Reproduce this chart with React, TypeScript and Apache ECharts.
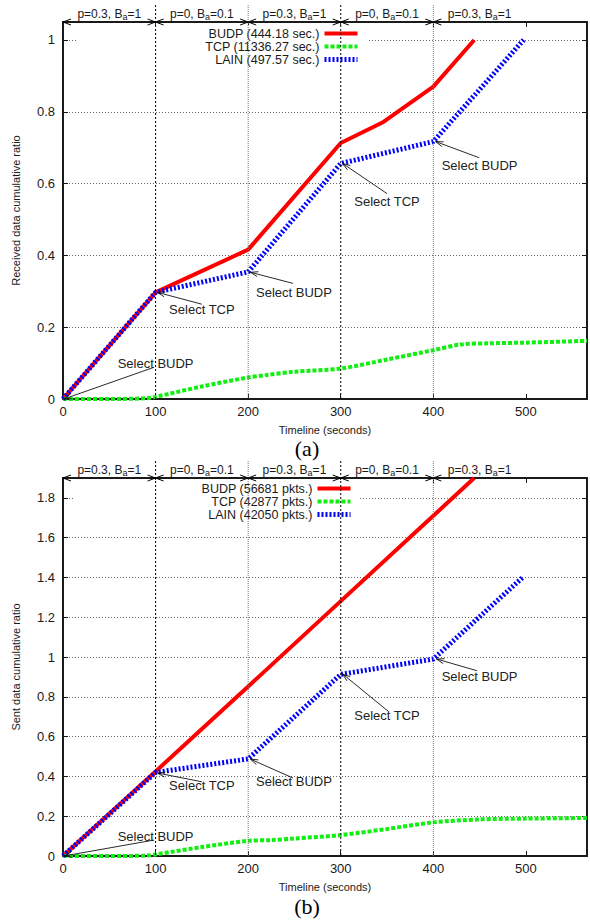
import React, { useEffect, useRef } from 'react';
import * as echarts from 'echarts';

// ---------- data ----------
const X_MAX = 566;
const RECV_Y_MAX = 1.05;
const SENT_Y_MAX = 1.9;

const phaseStart = [0, 100, 200, 300, 400];
const phaseEnd = [100, 200, 300, 400, 500];
const phaseP = ['0.3', '0', '0.3', '0', '0.3'];
const phaseB = ['1', '0.1', '1', '0.1', '1'];

const recvNames = ['BUDP (444.18 sec.)', 'TCP (11336.27 sec.)', 'LAIN (497.57 sec.)'];
const sentNames = ['BUDP (56681 pkts.)', 'TCP (42877 pkts.)', 'LAIN (42050 pkts.)'];

const recvBUDP = [[0, 0], [100, 0.297], [200, 0.416], [300, 0.713], [345, 0.77], [400, 0.87], [444.18, 1]];
const recvTCP = [[0, 0], [50, 0], [90, 0.002], [100, 0.006], [150, 0.035], [200, 0.06], [220, 0.067], [250, 0.076], [300, 0.085], [350, 0.11], [400, 0.136], [430, 0.152], [460, 0.155], [500, 0.157], [566, 0.162]];
const recvLAIN = [[0, 0], [100, 0.297], [200, 0.354], [300, 0.656], [400, 0.717], [497.57, 1]];

const sentBUDP = [[0, 0], [100, 0.425], [200, 0.852], [300, 1.281], [400, 1.71], [444.18, 1.9]];
const sentTCP = [[0, 0], [50, 0], [90, 0.002], [100, 0.008], [150, 0.045], [200, 0.076], [225, 0.08], [250, 0.088], [300, 0.105], [350, 0.136], [400, 0.169], [450, 0.184], [500, 0.188], [566, 0.191]];
const sentLAIN = [[0, 0], [100, 0.42], [200, 0.488], [300, 0.913], [400, 0.99], [497.57, 1.405]];

const noteText = ['Select BUDP', 'Select TCP', 'Select BUDP', 'Select TCP', 'Select BUDP'];
const recvNoteAt = [[100, 0.1], [150, 0.25], [249.5, 0.297], [350, 0.55], [450, 0.65]];
const recvNoteFrom = [[98, 0.088], [150, 0.264], [248.4, 0.322], [350, 0.572], [449.5, 0.672]];
const recvNoteTo = [[1, 0], [102, 0.297], [202.4, 0.353], [302, 0.656], [402.5, 0.717]];
const sentNoteAt = [[100, 0.1], [150, 0.352], [249.5, 0.373], [350, 0.705], [450, 0.9]];
const sentNoteFrom = [[98, 0.08], [150, 0.373], [248.4, 0.392], [351.9, 0.725], [447.4, 0.931]];
const sentNoteTo = [[1, 0], [102, 0.417], [202.4, 0.487], [302, 0.915], [403.5, 0.99]];

// ---------- styling ----------
const FONT = '"Liberation Sans", Arial, Helvetica, sans-serif';
const INK = '#1a1a1a';
const RED = '#ff0000';
const GREEN = '#11ee11';
const BLUE = '#0000ff';
const STYLES = [
  { color: RED, width: 4, type: 'solid' as any },
  { color: GREEN, width: 4, type: [4, 2] as any },
  { color: BLUE, width: 5, type: [2, 2] as any },
];

function xAxes(grid: number) {
  const common = {
    gridIndex: grid,
    type: 'value',
    min: 0,
    max: X_MAX,
    interval: 100,
    axisLine: { show: true, onZero: false, lineStyle: { color: INK, width: 2 } },
    axisTick: { show: true, inside: true, length: 5, lineStyle: { color: INK, width: 1 } },
    splitLine: { show: false },
  };
  return [
    {
      ...common,
      position: 'bottom',
      name: 'Timeline (seconds)',
      nameLocation: 'middle',
      nameGap: 25,
      nameTextStyle: { fontSize: 11, fontFamily: FONT, color: INK },
      axisLabel: {
        fontSize: 13,
        fontFamily: FONT,
        color: INK,
        margin: 6,
        formatter: (v: number) => (v % 100 === 0 ? String(v) : ''),
      },
    },
    { ...common, position: 'top', axisLabel: { show: false } },
  ];
}

function yAxes(grid: number, max: number, name: string) {
  const common = {
    gridIndex: grid,
    type: 'value',
    min: 0,
    max,
    interval: 0.2,
    axisLine: { show: true, onZero: false, lineStyle: { color: INK, width: 2 } },
    axisTick: { show: true, inside: true, length: 5, lineStyle: { color: INK, width: 1 } },
  };
  return [
    {
      ...common,
      position: 'left',
      name,
      nameLocation: 'middle',
      nameGap: 42,
      nameTextStyle: { fontSize: 11, fontFamily: FONT, color: INK },
      axisLabel: {
        fontSize: 13,
        fontFamily: FONT,
        color: INK,
        margin: 8,
        formatter: (v: number) =>
          Math.abs(v * 5 - Math.round(v * 5)) < 1e-6 ? String(+v.toFixed(1)) : '',
      },
      splitLine: { show: true, lineStyle: { color: '#666', width: 1, type: [1, 2] } },
    },
    { ...common, position: 'right', axisLabel: { show: false }, splitLine: { show: false } },
  ];
}

function lineSeries(names: string[], datas: number[][][], grid: number) {
  return datas.map((d, i) => ({
    name: names[i],
    type: 'line',
    xAxisIndex: grid * 2,
    yAxisIndex: grid * 2,
    data: d,
    symbol: 'none',
    smooth: i === 1 ? 0.3 : false,
    lineStyle: { color: STYLES[i].color, width: STYLES[i].width, type: STYLES[i].type, cap: 'butt' },
    itemStyle: { color: STYLES[i].color },
    z: 2 + i,
    silent: true,
  }));
}

function headerSeries(grid: number, yMax: number) {
  return {
    type: 'custom',
    xAxisIndex: grid * 2,
    yAxisIndex: grid * 2,
    z: 6,
    silent: true,
    clip: false,
    data: phaseStart.map((s) => [s, 0]),
    renderItem: (params: any, api: any) => {
      const i = params.dataIndex;
      const a = api.coord([phaseStart[i], yMax]);
      const b = api.coord([phaseEnd[i], yMax]);
      const bottom = api.coord([phaseStart[i], 0])[1];
      const y = a[1];
      const children: any[] = [];
      if (i > 0) {
        children.push({
          type: 'line',
          shape: { x1: a[0], y1: y - 17, x2: a[0], y2: bottom },
          style: { stroke: i % 2 ? '#000' : '#777', lineWidth: 1, lineDash: i % 2 ? [2, 2] : [1, 1] },
        });
      }
      children.push({
        type: 'polyline',
        shape: { points: [[a[0] + 8, y - 3], [a[0], y], [a[0] + 8, y + 3]] },
        style: { stroke: '#000', lineWidth: 1, fill: null },
      });
      if (i < phaseStart.length - 1) {
        children.push({
          type: 'polyline',
          shape: { points: [[b[0] - 8, y - 3], [b[0], y], [b[0] - 8, y + 3]] },
          style: { stroke: '#000', lineWidth: 1, fill: null },
        });
      }
      children.push({
        type: 'text',
        x: (a[0] + b[0]) / 2,
        y: y - 8,
        style: {
          text: `{n|p=${phaseP[i]}, B}{s|a}{n|=${phaseB[i]}}`,
          rich: {
            n: { fontSize: 12, fontFamily: FONT, fill: INK, lineHeight: 14 },
            s: { fontSize: 9, fontFamily: FONT, fill: INK, lineHeight: 9, verticalAlign: 'bottom' },
          },
          align: 'center',
          verticalAlign: 'middle',
        },
      });
      return { type: 'group', children };
    },
  };
}

function noteSeries(grid: number, at: number[][], from: number[][], to: number[][]) {
  return {
    type: 'custom',
    xAxisIndex: grid * 2,
    yAxisIndex: grid * 2,
    z: 6,
    silent: true,
    clip: false,
    data: at,
    renderItem: (params: any, api: any) => {
      const i = params.dataIndex;
      const t = api.coord(at[i]);
      const p = api.coord(from[i]);
      const q = api.coord(to[i]);
      const ang = Math.atan2(q[1] - p[1], q[0] - p[0]);
      const L = 8;
      const w = 0.32;
      const h1 = [q[0] - L * Math.cos(ang - w), q[1] - L * Math.sin(ang - w)];
      const h2 = [q[0] - L * Math.cos(ang + w), q[1] - L * Math.sin(ang + w)];
      return {
        type: 'group',
        children: [
          { type: 'line', shape: { x1: p[0], y1: p[1], x2: q[0], y2: q[1] }, style: { stroke: '#111', lineWidth: 0.9 } },
          { type: 'polyline', shape: { points: [h1, q, h2] }, style: { stroke: '#111', lineWidth: 0.9, fill: null } },
          {
            type: 'text',
            x: t[0],
            y: t[1],
            style: {
              text: noteText[i],
              fontSize: 13,
              fontFamily: FONT,
              fill: '#222',
              align: 'center',
              verticalAlign: 'middle',
            },
          },
        ],
      };
    },
  };
}

function legendFor(names: string[], right: number, top: number, padLeft: number) {
  return {
    data: names.map((n, i) => ({
      name: n,
      lineStyle: { width: STYLES[i].width, type: STYLES[i].type, color: STYLES[i].color },
      itemStyle: { opacity: 0, color: 'rgba(0,0,0,0)', borderWidth: 0 },
    })),
    orient: 'vertical',
    right,
    top,
    align: 'right',
    itemWidth: 33,
    itemHeight: 8,
    itemGap: 0,
    selectedMode: false,
    backgroundColor: '#fff',
    padding: [2, 7, 3, padLeft],
    textStyle: { fontSize: 12.5, fontFamily: FONT, color: INK, lineHeight: 12.5 },
    z: 4,
  };
}

export default function App() {
  const ref = useRef<HTMLDivElement>(null);
  useEffect(() => {
    if (!ref.current) return;
    const chart = echarts.init(ref.current, undefined, { renderer: 'svg' });
    const option: any = {
      animation: false,
      backgroundColor: '#fff',
      grid: [
        { left: 63, top: 22, right: -2, height: 377 },
        { left: 63, top: 478, right: -2, height: 378 },
      ],
      xAxis: [...xAxes(0), ...xAxes(1)],
      yAxis: [
        ...yAxes(0, RECV_Y_MAX, 'Received data cumulative ratio'),
        ...yAxes(1, SENT_Y_MAX, 'Sent data cumulative ratio'),
      ],
      legend: [legendFor(recvNames, 223, 25, 128), legendFor(sentNames, 230, 480, 128)],
      series: [
        ...lineSeries(recvNames, [recvBUDP, recvTCP, recvLAIN], 0),
        ...lineSeries(sentNames, [sentBUDP, sentTCP, sentLAIN], 1),
        headerSeries(0, RECV_Y_MAX),
        headerSeries(1, SENT_Y_MAX),
        noteSeries(0, recvNoteAt, recvNoteFrom, recvNoteTo),
        noteSeries(1, sentNoteAt, sentNoteFrom, sentNoteTo),
      ],
      graphic: [
        {
          type: 'text',
          x: 307,
          y: 448,
          style: { text: '(a)', font: '22px "Liberation Serif", "DejaVu Serif", serif', fill: '#000', align: 'center', verticalAlign: 'middle' },
        },
        {
          type: 'text',
          x: 307,
          y: 906,
          style: { text: '(b)', font: '22px "Liberation Serif", "DejaVu Serif", serif', fill: '#000', align: 'center', verticalAlign: 'middle' },
        },
      ],
    };
    chart.setOption(option);
    return () => chart.dispose();
  }, []);
  return (
    <div
      ref={ref}
      style={{ position: 'absolute', left: 0, top: 0, width: 590, height: 920, background: '#fff' }}
    />
  );
}
